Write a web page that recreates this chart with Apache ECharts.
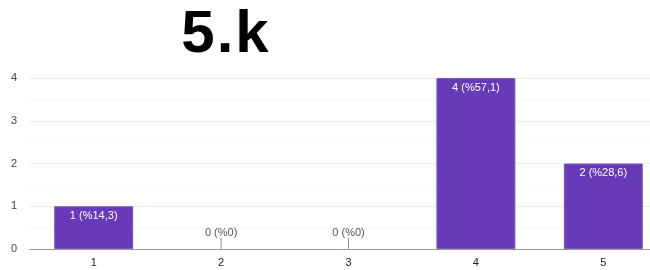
<!DOCTYPE html>
<html>
<head>
<meta charset="utf-8">
<script src="https://cdn.jsdelivr.net/npm/echarts@6/dist/echarts.min.js"></script>
<style>
html, body { margin: 0; padding: 0; background: #fff; }
#main { width: 650px; height: 270px; }
</style>
</head>
<body>
<div id="main"></div>
<script>
const categories = ['1', '2', '3', '4', '5'];
const counts = [1, 0, 0, 4, 2];
const yTicks = [0, 1, 2, 3, 4];
const titleText = '5.k';

const total = counts.reduce((a, b) => a + b, 0);
const pct = v => {
    const p = Math.round(v / total * 1000) / 10;
    return String(p).replace('.', ',');
};

const chart = echarts.init(document.getElementById('main'));

const barData = counts.map(v => ({
    value: v,
    itemStyle: v === 0 ? { borderWidth: 0, color: '#d9d0ea' } : undefined,
    label: v === 0
        ? { position: 'top', distance: 11, color: '#555' }
        : { position: 'insideTop', distance: 4, color: '#fff' }
}));

// little stems above the empty bars
const stemData = counts.map((v, i) => v === 0 ? [i, 0] : null).filter(d => d);

const option = {
    animation: false,
    title: {
        // letters split so they can be spaced a bit wider
        text: titleText.split('').map(c => '{t|' + c + '}').join(''),
        left: 220,
        textAlign: 'center',
        top: 0,
        textStyle: {
            fontFamily: 'Liberation Sans', fontWeight: 'bold', fontSize: 60, color: '#000',
            rich: { t: { fontFamily: 'Liberation Sans', fontWeight: 'bold', fontSize: 60, color: '#000', padding: [0, 1] } }
        }
    },
    grid: { left: 30, right: -17, top: 78, bottom: 21, outerBoundsMode: 'none', containLabel: false },
    xAxis: {
        type: 'category',
        data: categories,
        axisTick: { show: false },
        axisLine: { lineStyle: { color: '#999', width: 1 } },
        axisLabel: { color: '#222', fontSize: 11, margin: 8, fontFamily: 'Liberation Sans' }
    },
    yAxis: {
        type: 'value',
        min: 0,
        max: yTicks[yTicks.length - 1],
        interval: 1,
        axisLabel: { color: '#444', fontSize: 11, margin: 13, fontFamily: 'Liberation Sans' },
        splitLine: { lineStyle: { color: '#ebebeb' } },
        minorTick: { show: false, splitNumber: 2 },
        minorSplitLine: { show: true, lineStyle: { color: '#f6f6f6' } }
    },
    series: [
        {
            type: 'bar',
            data: barData,
            barWidth: 79,
            itemStyle: { color: '#673ab7', borderColor: '#7e57c2', borderWidth: 1 },
            label: {
                show: true,
                fontSize: 11,
                fontFamily: 'Liberation Sans',
                formatter: p => p.value + ' (%' + pct(p.value) + ')'
            }
        },
        {
            type: 'scatter',
            data: stemData,
            symbol: 'rect',
            symbolSize: [1, 11],
            symbolOffset: [0, -5.5],
            itemStyle: { color: '#777' },
            silent: true
        }
    ]
};

chart.setOption(option);
</script>
</body>
</html>
